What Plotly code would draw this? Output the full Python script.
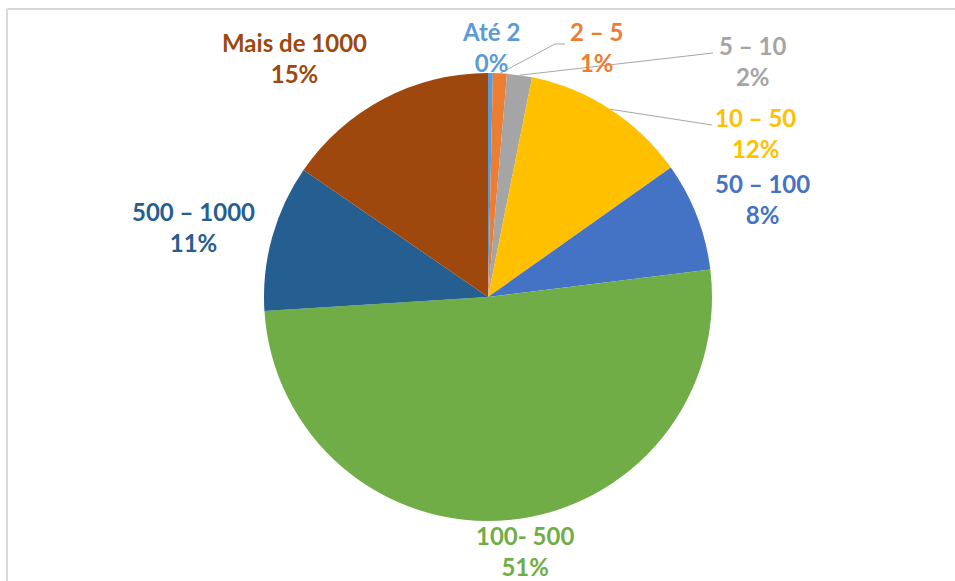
import math
import plotly.graph_objects as go

# ---- data ----
categories = ["Até 2", "2 – 5", "5 – 10", "10 – 50", "50 – 100", "100- 500", "500 – 1000", "Mais de 1000"]
values = [0.35, 1.0, 1.8, 12.05, 7.85, 50.95, 10.6, 15.4]
colors = ["#5B9BD5", "#ED7D31", "#A5A5A5", "#FFC000", "#4472C4", "#70AD47", "#255E91", "#9E480E"]

# ---- layout constants (pixels) ----
W, H = 955, 581
CX, CY, R = 488, 297, 224
label_pos = {  # label centres in px
    "Até 2": (491, 47),
    "2 – 5": (596, 47),
    "5 – 10": (752, 61),
    "10 – 50": (755, 133),
    "50 – 100": (762, 199),
    "100- 500": (525, 551),
    "500 – 1000": (193, 227),
    "Mais de 1000": (294, 58),
}
leaders = {  # label -> list of px waypoints after the slice edge
    "2 – 5": [(555, 44), (565, 44)],
    "5 – 10": [(713, 53)],
    "10 – 50": [(712, 125)],
}

def px(x):
    return x / W

def py(y):
    return 1 - y / H

fig = go.Figure(go.Pie(
    labels=categories,
    values=values,
    sort=False,
    direction="clockwise",
    rotation=0,
    marker=dict(colors=colors, line=dict(width=0)),
    textinfo="none",
    hoverinfo="label+percent",
    domain=dict(x=[px(CX - R), px(CX + R)], y=[py(CY + R), py(CY - R)]),
    showlegend=False,
))

total = sum(values)
annotations = []
shapes = []
cum = 0.0
for cat, v, c in zip(categories, values, colors):
    mid = (cum + v / 2) / total * 2 * math.pi
    cum += v
    lx, ly = label_pos[cat]
    pct = round(v / total * 100)
    annotations.append(dict(
        x=px(lx), y=py(ly), xref="paper", yref="paper",
        text=f"{cat}<br>{pct}%", showarrow=False, align="center",
        xanchor="center", yanchor="middle",
        font=dict(family="Lato", size=24, color=c, weight="bold"),
    ))
    if cat in leaders:
        pts = [(CX + R * math.sin(mid), CY - R * math.cos(mid))] + leaders[cat]
        path = "M " + " L ".join(f"{px(a)},{py(b)}" for a, b in pts)
        shapes.append(dict(type="path", xref="paper", yref="paper", path=path,
                           line=dict(color="#A6A6A6", width=1)))

# chart frame (top and left edges)
shapes.append(dict(type="line", xref="paper", yref="paper",
                   x0=px(7), y0=py(9), x1=1.0, y1=py(9),
                   line=dict(color="#D9D9D9", width=2)))
shapes.append(dict(type="line", xref="paper", yref="paper",
                   x0=px(7), y0=py(9), x1=px(7), y1=0.0,
                   line=dict(color="#D9D9D9", width=2)))

fig.update_layout(
    width=W, height=H,
    margin=dict(l=0, r=0, t=0, b=0),
    paper_bgcolor="white", plot_bgcolor="white",
    annotations=annotations,
    shapes=shapes,
)

fig.write_html(
    "out.html",
    config={"displayModeBar": False},
    post_script="document.body.style.margin='0';document.body.style.overflow='hidden';",
)
